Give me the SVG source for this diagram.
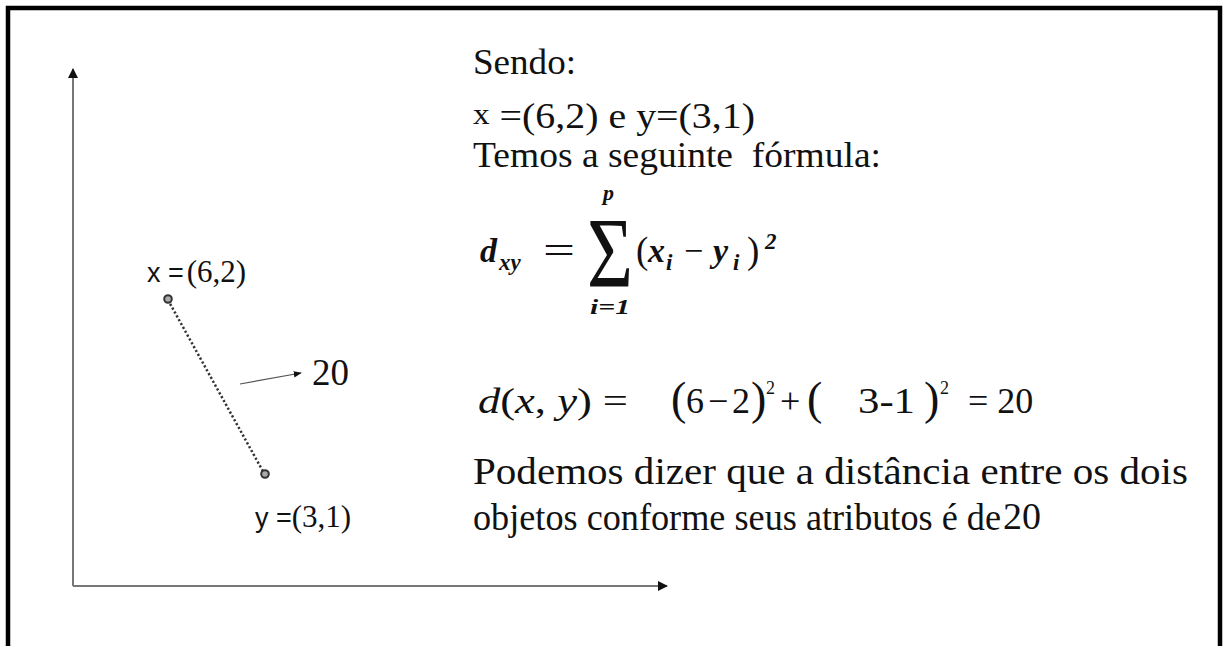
<svg xmlns="http://www.w3.org/2000/svg" width="1224" height="646" viewBox="0 0 1224 646">
<style>
.t{font-family:"Liberation Serif","DejaVu Serif",serif;font-weight:normal;fill:#111;white-space:pre}
.s{font-family:"Liberation Sans","DejaVu Sans",sans-serif;fill:#111}
.m{font-family:"Liberation Serif","DejaVu Serif",serif;font-weight:bold;font-style:italic;fill:#111}
.axis{stroke:#777;stroke-width:2;fill:none}
</style>
<defs>
<marker id="ah" viewBox="0 0 10 10" refX="9" refY="5" markerWidth="5" markerHeight="5" orient="auto" markerUnits="strokeWidth">
<path d="M0,0 L10,5 L0,10 z" fill="#111"/>
</marker>
<marker id="ah2" viewBox="0 0 10 10" refX="9" refY="5" markerWidth="8" markerHeight="8" orient="auto" markerUnits="userSpaceOnUse">
<path d="M0,1 L10,5 L0,9 z" fill="#111"/>
</marker>
</defs>
<rect width="1224" height="646" fill="#fff"/>
<g id="frame">
<path d="M8,646 V8 H1220 V646" fill="none" stroke="#000" stroke-width="4.5"/>
</g>
<g id="connectors">
<line class="axis" x1="73" y1="586" x2="73" y2="69" marker-end="url(#ah)"/>
<line class="axis" x1="73" y1="586" x2="667" y2="586" stroke="#333" marker-end="url(#ah)"/>
<line x1="168" y1="300" x2="265" y2="475" stroke="#333" stroke-width="2.5" stroke-dasharray="2.2 2.2"/>
<line x1="240" y1="384" x2="301" y2="373" stroke="#555" stroke-width="1.2" marker-end="url(#ah2)"/>
</g>
<g id="point-x">
<circle cx="168" cy="299" r="3.8" fill="#aaa" stroke="#333" stroke-width="2"/>
<text x="147" y="282" font-size="31"><tspan class="s" font-size="27">x =</tspan><tspan class="t" dx="3">(6,2)</tspan></text>
</g>
<g id="point-y">
<circle cx="265" cy="474" r="3.8" fill="#aaa" stroke="#333" stroke-width="2"/>
<text x="255" y="527" font-size="31"><tspan class="s" font-size="27">y =</tspan><tspan class="t">(3,1)</tspan></text>
</g>
<g id="label-20">
<text class="t" x="312" y="385" font-size="37">20</text>
</g>
<g id="text-block">
<text class="t" x="473" y="74" font-size="36" textLength="103" lengthAdjust="spacingAndGlyphs">Sendo:</text>
<text class="t" x="473" y="128" font-size="36" textLength="282" lengthAdjust="spacingAndGlyphs"><tspan font-size="30" dy="-4">x</tspan><tspan dy="4"> =(6,2) e y=(3,1)</tspan></text>
<text class="t" x="473" y="167" font-size="36" textLength="408" lengthAdjust="spacingAndGlyphs">Temos a seguinte  fórmula:</text>
</g>
<g id="formula">
<text class="m" x="480" y="262" font-size="34">d</text>
<text class="m" x="499" y="270" font-size="23">xy</text>
<text class="t" x="543" y="263" font-size="38" textLength="32" lengthAdjust="spacingAndGlyphs">=</text>
<text class="t" x="587" y="286" font-size="100" textLength="46" lengthAdjust="spacingAndGlyphs">Σ</text>
<text class="m" x="603" y="200" font-size="22">p</text>
<text class="m" x="590" y="314" font-size="22" textLength="40" lengthAdjust="spacingAndGlyphs">i=1</text>
<text class="t" x="636" y="263" font-size="37">(</text>
<text class="m" x="648" y="262" font-size="34">x</text>
<text class="m" x="666" y="270" font-size="23">i</text>
<text class="t" x="684" y="262" font-size="34">−</text>
<text class="m" x="713" y="262" font-size="34">y</text>
<text class="m" x="733" y="270" font-size="23">i</text>
<text class="t" x="747" y="263" font-size="37">)</text>
<text class="m" x="765" y="249" font-size="23" font-style="normal">2</text>
</g>
<g id="calc">
<text class="t" x="478" y="413" font-size="36" textLength="150" lengthAdjust="spacingAndGlyphs"><tspan font-style="italic">d</tspan>(<tspan font-style="italic">x</tspan>, <tspan font-style="italic">y</tspan>) =</text>
<text class="t" x="671" y="414" font-size="46">(</text>
<text class="t" x="686" y="413" font-size="36">6</text>
<text class="t" x="708" y="413" font-size="36">−</text>
<text class="t" x="732" y="413" font-size="36">2</text>
<text class="t" x="751" y="414" font-size="46">)</text>
<text class="t" x="766" y="394" font-size="18">2</text>
<text class="t" x="780" y="413" font-size="36">+</text>
<text class="t" x="807" y="414" font-size="46">(</text>
<text class="t" x="858" y="413" font-size="36" textLength="57" lengthAdjust="spacingAndGlyphs">3-1</text>
<text class="t" x="924" y="414" font-size="46">)</text>
<text class="t" x="940" y="394" font-size="18">2</text>
<text class="t" x="968" y="413" font-size="36">= 20</text>
</g>
<g id="conclusion">
<text class="t" x="473" y="484" font-size="37" textLength="715" lengthAdjust="spacingAndGlyphs">Podemos dizer que a distância entre os dois</text>
<text class="t" x="473" y="530" font-size="37" textLength="528" lengthAdjust="spacingAndGlyphs">objetos conforme seus atributos é de</text>
<text class="t" x="1003" y="529" font-size="38">20</text>
</g>
</svg>
